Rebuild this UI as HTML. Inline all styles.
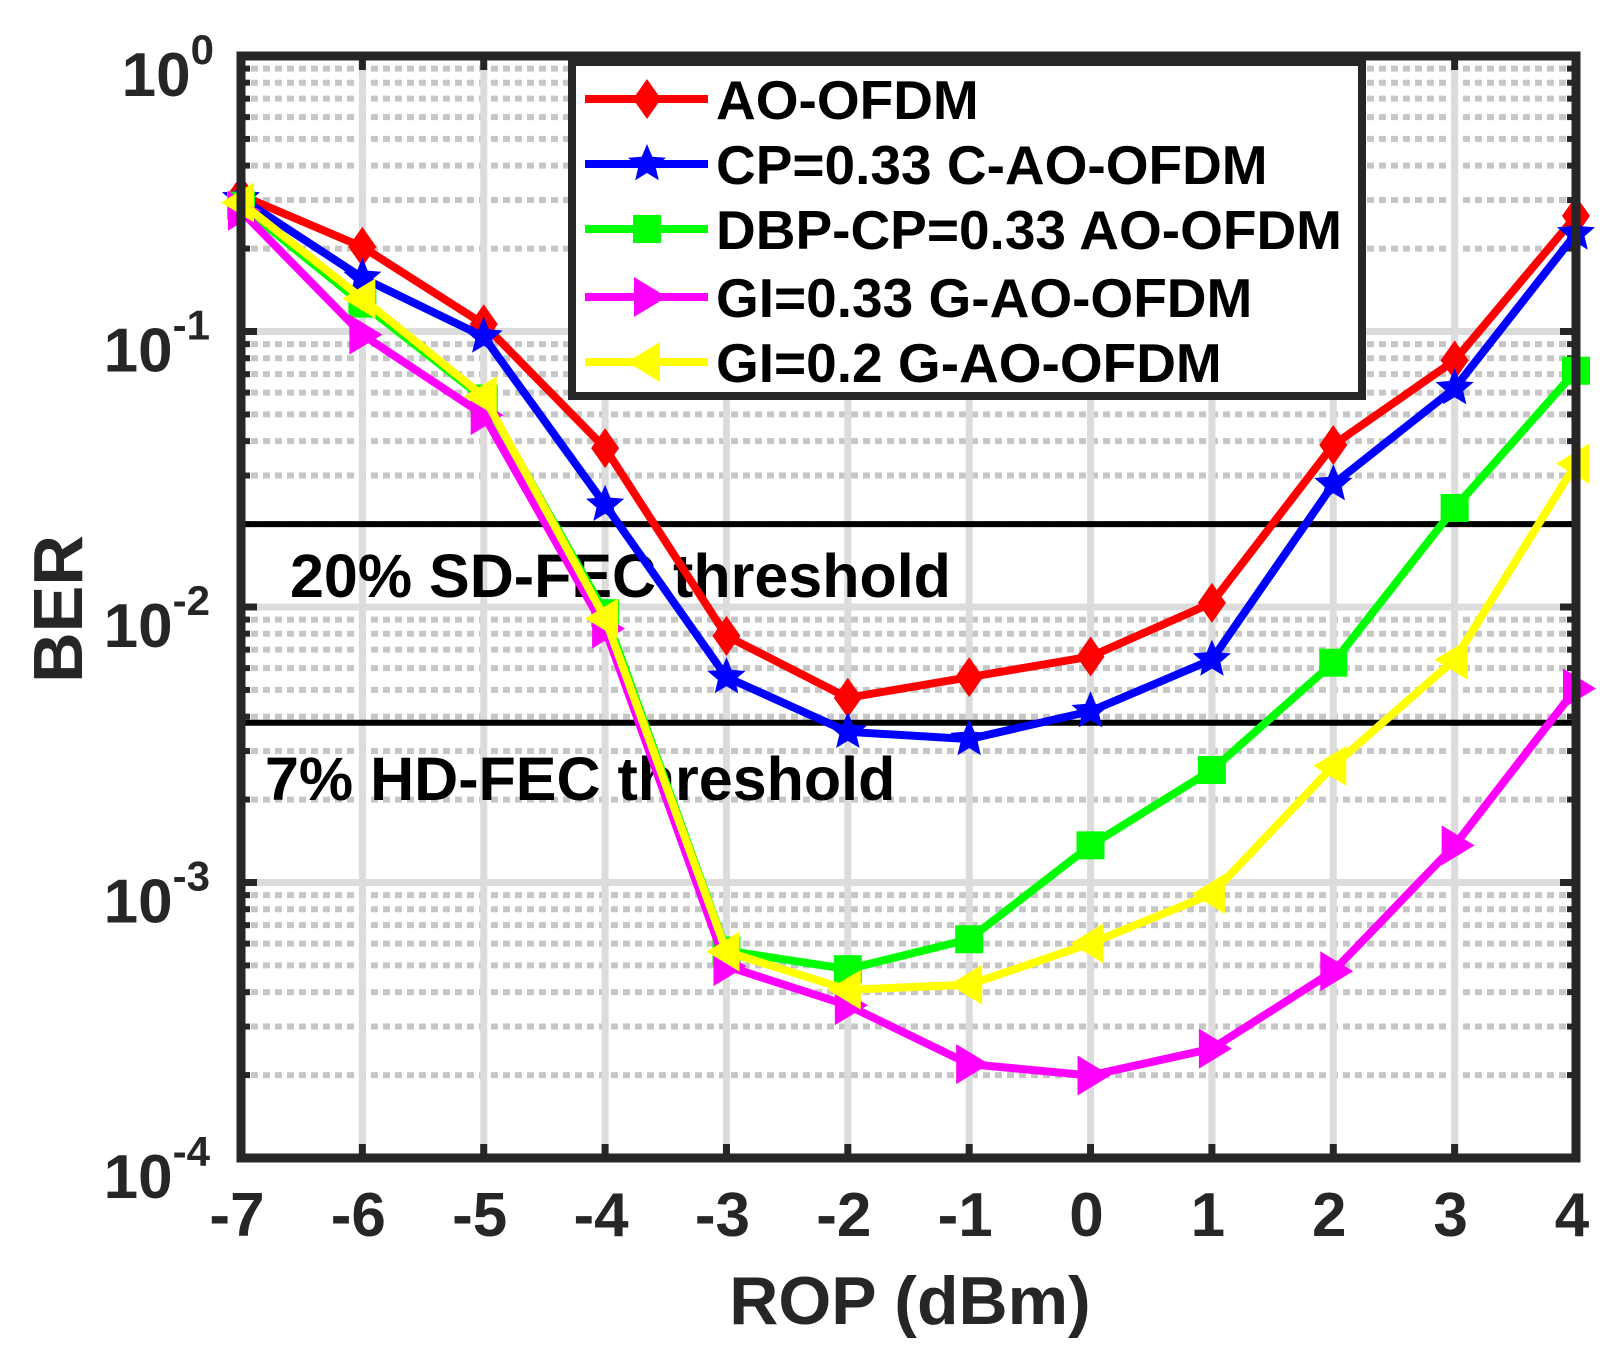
<!DOCTYPE html>
<html><head><meta charset="utf-8"><style>
html,body{margin:0;padding:0;background:#fff}
svg{display:block}
text{font-family:"Liberation Sans",Arial,sans-serif;font-weight:bold}
</style></head><body>
<svg id="s" xmlns="http://www.w3.org/2000/svg" width="1623" height="1354" viewBox="0 0 1623 1354"></svg>
<script>
const S=document.getElementById('s');
const L=241,R=1576,T=56,B=1158,D=275.5;
const X=v=>L+(v+7)*(R-L)/11;
const Y=b=>T-Math.log10(b)*D;
let h='';
for(let d=0;d<4;d++)for(let k=2;k<=9;k++){const y=T+d*D+(1-Math.log10(k))*D;h+=`<line x1="${L+10}" x2="${R-10}" y1="${y}" y2="${y}" stroke="#c6c6c6" stroke-width="6" stroke-dasharray="7 5"/>`;
h+=`<line x1="${L}" x2="${L+9}" y1="${y}" y2="${y}" stroke="#262626" stroke-width="6"/><line x1="${R-9}" x2="${R}" y1="${y}" y2="${y}" stroke="#262626" stroke-width="6"/>`;}
for(let d=1;d<4;d++){const y=T+d*D;h+=`<line x1="${L}" x2="${R}" y1="${y}" y2="${y}" stroke="#dcdcdc" stroke-width="7"/><line x1="${L}" x2="${L+16}" y1="${y}" y2="${y}" stroke="#262626" stroke-width="7"/><line x1="${R-16}" x2="${R}" y1="${y}" y2="${y}" stroke="#262626" stroke-width="7"/>`;}
for(let v=-6;v<=3;v++){const x=X(v);h+=`<line x1="${x}" x2="${x}" y1="${T}" y2="${B}" stroke="#dcdcdc" stroke-width="7"/><line x1="${x}" x2="${x}" y1="${T}" y2="${T+14}" stroke="#262626" stroke-width="7"/><line x1="${x}" x2="${x}" y1="${B-14}" y2="${B}" stroke="#262626" stroke-width="7"/>`;}
h+=`<line x1="${L}" x2="${R}" y1="${Y(0.02)}" y2="${Y(0.02)}" stroke="#000" stroke-width="6"/><line x1="${L}" x2="${R}" y1="${Y(0.0038)}" y2="${Y(0.0038)}" stroke="#000" stroke-width="6"/>`;
h+=`<text x="290" y="597" font-size="61" fill="#000">20% SD-FEC threshold</text><text x="265" y="800" font-size="61" fill="#000">7% HD-FEC threshold</text>`;
const conv=yd=>Math.pow(10,-(yd-50)/267);
const ser=[
['#ff0000','d',[185,235,310,430,612,672,652,632,580,427,345,205]],
['#0000ff','s',[188,265,322,485,652,705,712,685,635,465,372,222]],
['#00ff00','q',[195,290,382,590,917,935,906,815,742,638,488,355]],
['#ff00ff','r',[200,320,398,605,932,970,1027,1038,1012,937,815,663]],
['#ffff00','l',[192,285,380,595,918,955,950,910,862,738,635,445]]];
function mk(t,x,y,c){
 if(t=='d')return `<polygon points="${x},${y-20} ${x+14},${y} ${x},${y+20} ${x-14},${y}" fill="${c}"/>`;
 if(t=='q')return `<rect x="${x-14}" y="${y-14}" width="28" height="28" fill="${c}"/>`;
 if(t=='r')return `<polygon points="${x-13},${y-20} ${x+20},${y} ${x-13},${y+20}" fill="${c}"/>`;
 if(t=='l')return `<polygon points="${x+13},${y-20} ${x-20},${y} ${x+13},${y+20}" fill="${c}"/>`;
 let p=[];for(let i=0;i<10;i++){const r=i%2?9:20,a=-Math.PI/2+i*Math.PI/5;p.push((x+r*Math.cos(a)).toFixed(1)+','+(y+r*Math.sin(a)).toFixed(1));}
 return `<polygon points="${p.join(' ')}" fill="${c}"/>`;}
for(const [c,t,ys] of ser){const pts=ys.map((yd,i)=>[X(i-7),Y(conv(yd))]);
 h+=`<polyline points="${pts.map(p=>p.join(',')).join(' ')}" fill="none" stroke="${c}" stroke-width="8" stroke-linejoin="miter"/>`;
 pts.forEach(p=>h+=mk(t,p[0],p[1],c));}
h+=`<rect x="${L}" y="${T}" width="${R-L}" height="${B-T}" fill="none" stroke="#262626" stroke-width="9"/>`;
h+=`<rect x="572" y="62" width="790" height="334" fill="#fff" stroke="#262626" stroke-width="8"/>`;
const names=['AO-OFDM','CP=0.33 C-AO-OFDM','DBP-CP=0.33 AO-OFDM','GI=0.33 G-AO-OFDM','GI=0.2 G-AO-OFDM'];
const ly=[99,164,229,297,362];
ser.forEach((s,i)=>{const y=ly[i];h+=`<line x1="585" x2="708" y1="${y}" y2="${y}" stroke="${s[0]}" stroke-width="8"/>`+mk(s[1],647,y,s[0])+`<text x="716" y="${y+20}" font-size="55" fill="#000">${names[i]}</text>`;});
for(let v=-7;v<=4;v++)h+=`<text x="${X(v)-4}" y="1236" font-size="62" fill="#262626" text-anchor="middle">${v}</text>`;
for(let d=0;d<=4;d++){const y=T+d*D;h+=`<text x="${d==0?214:210}" y="${y+40}" font-size="62" fill="#262626" text-anchor="end">10<tspan dy="-32" font-size="42">${d==0?'0':'-'+d}</tspan></text>`;}
h+=`<text x="910" y="1324" font-size="68" fill="#262626" text-anchor="middle">ROP (dBm)</text>`;
h+=`<text transform="translate(82,609) rotate(-90)" font-size="70" fill="#262626" text-anchor="middle">BER</text>`;
S.innerHTML=h;
</script>
</body></html>
